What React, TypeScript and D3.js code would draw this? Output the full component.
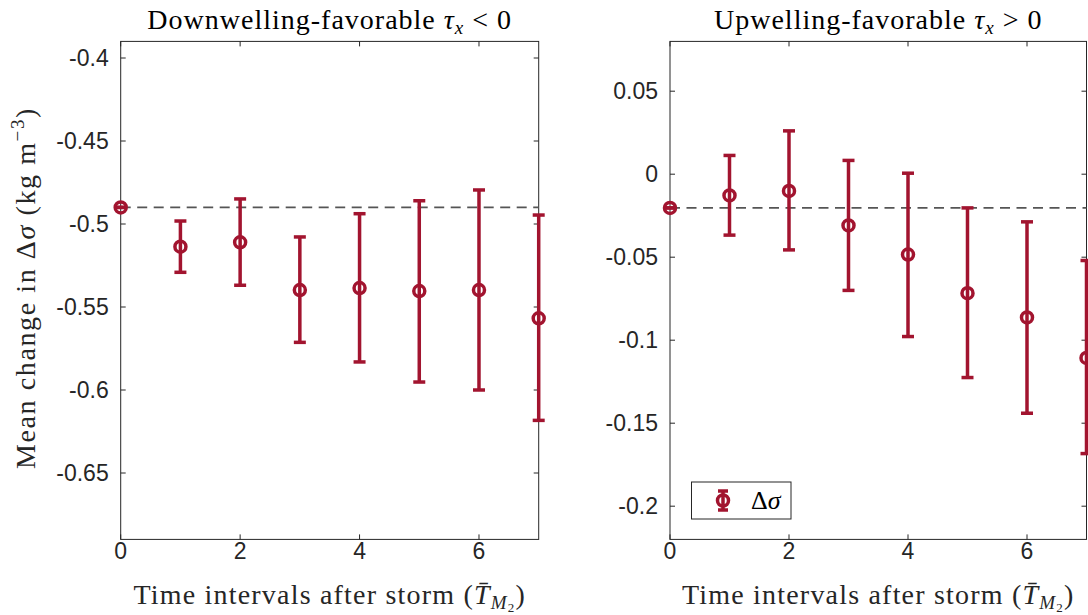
import React from "react";
import * as d3 from "d3";

// time intervals after storm
const steps = [0, 1, 2, 3, 4, 5, 6, 7];

// downwelling-favorable (tau_x < 0)
const downMean = [-0.49, -0.5137, -0.511, -0.5398, -0.5386, -0.5404, -0.5398, -0.5568];
const downLow = [-0.49, -0.5291, -0.5369, -0.5713, -0.5831, -0.5952, -0.6, -0.6183];
const downHigh = [-0.49, -0.4982, -0.4849, -0.5078, -0.4938, -0.486, -0.4795, -0.4946];
const downTicks = [-0.4, -0.45, -0.5, -0.55, -0.6, -0.65];

// upwelling-favorable (tau_x > 0)
const upMean = [-0.0203, -0.0128, -0.0101, -0.0309, -0.0484, -0.0717, -0.0863, -0.1107];
const upLow = [-0.0203, -0.0367, -0.0456, -0.07, -0.0978, -0.1225, -0.144, -0.1683];
const upHigh = [-0.0203, 0.0113, 0.0261, 0.0083, 0.0006, -0.0203, -0.0287, -0.052];
const upTicks = [0.05, 0, -0.05, -0.1, -0.15, -0.2];

const xTicks = [0, 2, 4, 6];

const RED = "#A2142F";
const AX = "#262626";
const SERIF = "'Liberation Serif', 'DejaVu Serif', serif";
const SANS = "'Liberation Sans', Arial, sans-serif";

const top = 41.4;
const bottom = 539.4;

function Panel(props: any) {
  const { x0, x1, domain, mean, low, high, ticks, fmt, title, legend } = props;
  const x = d3.scaleLinear().domain([0, 7]).range([x0, x1]);
  const y = d3.scaleLinear().domain(domain).range([bottom, top]);
  const cap = 6;
  const base = mean[0];
  return (
    <g>
      <text x={(x0 + x1) / 2} y={29} textAnchor="middle" fontFamily={SERIF} fontSize={28} letterSpacing={1} fill="#000">
        {title}
        <tspan fontStyle="italic"> τ</tspan>
        <tspan fontStyle="italic" fontSize={19} dy={5}>x</tspan>
        <tspan dy={-5}>{props.sign} 0</tspan>
      </text>
      <rect x={x0} y={top} width={x1 - x0} height={bottom - top} fill="none" stroke={AX} strokeWidth={1} />
      {xTicks.map((t) => (
        <g key={"x" + t}>
          <line x1={x(t)} x2={x(t)} y1={bottom} y2={bottom - 5} stroke={AX} />
          <line x1={x(t)} x2={x(t)} y1={top} y2={top + 5} stroke={AX} />
          <text x={x(t)} y={559} textAnchor="middle" fontFamily={SANS} fontSize={23} fill={AX}>{t}</text>
        </g>
      ))}
      {ticks.map((t: number) => (
        <g key={"y" + t}>
          <line x1={x0} x2={x0 + 5} y1={y(t)} y2={y(t)} stroke={AX} />
          <line x1={x1} x2={x1 - 5} y1={y(t)} y2={y(t)} stroke={AX} />
          <text x={x0 - 12} y={y(t)} dy="0.36em" textAnchor="end" fontFamily={SANS} fontSize={23} fill={AX}>{fmt(t)}</text>
        </g>
      ))}
      <line x1={x(0)} x2={x(7)} y1={y(base)} y2={y(base)} stroke="#555" strokeWidth={1.8} strokeDasharray="10,6.5" />
      {steps.map((s, i) => (
        <g key={"p" + s} stroke={RED} strokeWidth={3.5} fill="none">
          <line x1={x(s)} x2={x(s)} y1={y(low[i])} y2={y(high[i])} />
          <line x1={x(s) - cap} x2={x(s) + cap} y1={y(low[i])} y2={y(low[i])} />
          <line x1={x(s) - cap} x2={x(s) + cap} y1={y(high[i])} y2={y(high[i])} />
          <circle cx={x(s)} cy={y(mean[i])} r={5.5} />
        </g>
      ))}
      <text x={(x0 + x1) / 2} y={604} textAnchor="middle" fontFamily={SERIF} fontSize={28} letterSpacing={1.2} fill={AX}>
        Time intervals after storm (
        <tspan fontStyle="italic">T̄</tspan>
        <tspan fontStyle="italic" fontSize={19} dy={5}>M</tspan>
        <tspan fontSize={13} dy={3}>2</tspan>
        <tspan dy={-8}>)</tspan>
      </text>
      {legend && (
        <g>
          <rect x={691.5} y={482} width={99.5} height={37} fill="#fff" stroke={AX} strokeWidth={1} />
          <g stroke={RED} strokeWidth={3.5} fill="none">
            <line x1={723} x2={723} y1={491} y2={510} />
            <line x1={718} x2={728} y1={491} y2={491} />
            <line x1={718} x2={728} y1={510} y2={510} />
            <circle cx={723} cy={500.5} r={5.5} />
          </g>
          <text x={751} y={509} fontFamily={SERIF} fontSize={26} fill="#000">
            Δ<tspan fontStyle="italic">σ</tspan>
          </text>
        </g>
      )}
    </g>
  );
}

export default function App() {
  const fmt = (v: number) => (v === 0 ? "0" : d3.format("")(+v.toFixed(2)).replace("−", "-"));
  return (
    <svg width={1088} height={615} style={{ position: "absolute", left: 0, top: 0, background: "#fff" }}>
      <Panel x0={120.7} x1={538.7} domain={[-0.69, -0.39]} mean={downMean} low={downLow} high={downHigh}
        ticks={downTicks} fmt={fmt} title="Downwelling-favorable" sign=" <" />
      <Panel x0={670} x1={1086.5} domain={[-0.22, 0.08]} mean={upMean} low={upLow} high={upHigh}
        ticks={upTicks} fmt={fmt} title="Upwelling-favorable" sign=" >" legend />
      <text transform="translate(35,288) rotate(-90)" textAnchor="middle" fontFamily={SERIF} fontSize={28} letterSpacing={1.6} fill={AX}>
        Mean change in Δ<tspan fontStyle="italic">σ</tspan> (kg m<tspan fontSize={19} dy={-11}>−3</tspan><tspan dy={11}>)</tspan>
      </text>
    </svg>
  );
}
